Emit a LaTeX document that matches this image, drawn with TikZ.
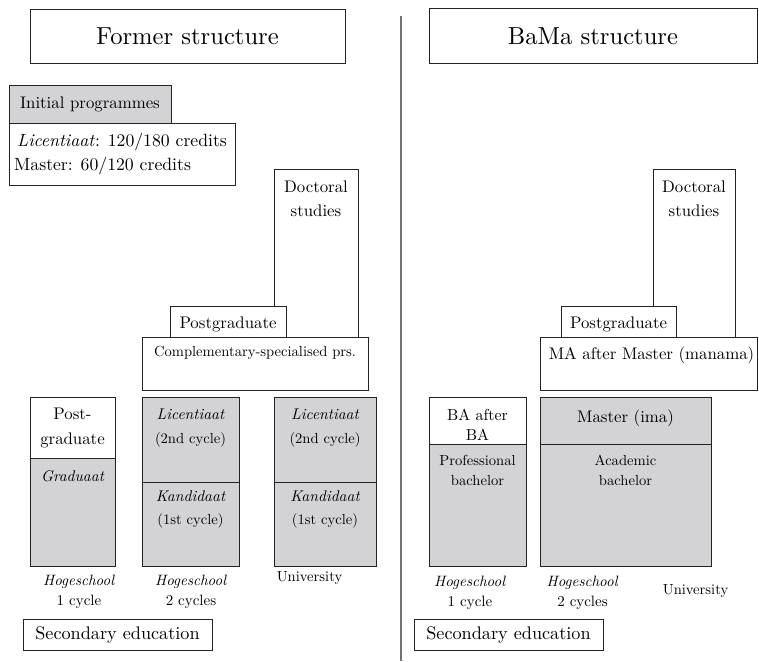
\documentclass[tikz,border=0pt]{standalone}
\usepackage{fontspec}
\setmainfont{lmroman10-regular.otf}[ItalicFont=lmroman10-italic.otf]
\newcommand{\fsz}[2]{\fontsize{#1}{#2}\selectfont}
\definecolor{boxgray}{RGB}{211,211,213}
\definecolor{edge}{RGB}{35,35,35}
\begin{document}
\begin{tikzpicture}[x=1pt,y=-1pt,
  bx/.style={draw=edge, line width=1pt, fill=white, anchor=north west, inner sep=0pt, outer sep=0pt},
  gbx/.style={bx, fill=boxgray},
  tx/.style={inner sep=0pt, align=center, text=black}]
\useasboundingbox (0,0) rectangle (759,661);
% ---------------- left: former structure ----------------
\node[bx, minimum width=315pt, minimum height=53pt] (t1) at (30,10) {};
\node[tx, font=\fsz{24.6}{28}] (t1txt) at (187.5,36) {Former structure};
\node[gbx, minimum width=162pt, minimum height=38pt] (ip) at (9,85) {};
\node[tx, font=\fsz{16.8}{20}] (iptxt) at (90,104) {Initial programmes};
\node[bx, minimum width=226pt, minimum height=62pt] (lic) at (9,123) {};
\node[tx, align=left, anchor=west, font=\fsz{17.7}{24}] (lictxt) at (14,154) {\hspace*{3pt}\textit{Licentiaat}: 120/180 credits\\Master: 60/120 credits};
\node[bx, minimum width=84pt, minimum height=168pt] (docL) at (274,169) {};
\node[tx, font=\fsz{16.8}{24}] (docLtxt) at (316,199) {Doctoral\\studies};
\node[bx, minimum width=116pt, minimum height=31pt] (pgL) at (170,306) {};
\node[tx, font=\fsz{16.8}{20}] (pgLtxt) at (228,324) {Postgraduate};
\node[bx, minimum width=226pt, minimum height=53pt] (compL) at (142,337) {};
\node[tx, font=\fsz{14.6}{18}] (compLtxt) at (255,353) {Complementary-specialised prs.};
% columns
\node[bx, minimum width=85pt, minimum height=61pt] (c1top) at (30,397) {};
\node[gbx, minimum width=85pt, minimum height=108pt] (c1bot) at (30,458) {};
\node[tx, font=\fsz{16.8}{25}] (c1toptxt) at (72.5,428) {Post-\\graduate};
\node[tx, font=\fsz{15.5}{20}\itshape] (c1bottxt) at (72.5,476) {Graduaat};
\node[gbx, minimum width=97pt, minimum height=85pt] (c2top) at (142,397) {};
\node[gbx, minimum width=97pt, minimum height=84pt] (c2bot) at (142,482) {};
\node[tx, font=\fsz{14.6}{24}] (c2toptxt) at (190.5,428) {{\fsz{15.5}{24}\itshape Licentiaat}\\(2nd cycle)};
\node[tx, font=\fsz{14.6}{23}] (c2bottxt) at (190.5,509.5) {{\fsz{15.5}{23}\itshape Kandidaat}\\(1st cycle)};
\node[gbx, minimum width=102pt, minimum height=85pt] (c3top) at (274,397) {};
\node[gbx, minimum width=102pt, minimum height=84pt] (c3bot) at (274,482) {};
\node[tx, font=\fsz{14.6}{24}] (c3toptxt) at (325,428) {{\fsz{15.5}{24}\itshape Licentiaat}\\(2nd cycle)};
\node[tx, font=\fsz{14.6}{23}] (c3bottxt) at (325,509.5) {{\fsz{15.5}{23}\itshape Kandidaat}\\(1st cycle)};
\node[tx, font=\fsz{15}{20}] (h1L) at (79,592) {\textit{Hogeschool}\\1 cycle};
\node[tx, font=\fsz{15}{20}] (h2L) at (191,592) {\textit{Hogeschool}\\2 cycles};
\node[tx, font=\fsz{14.6}{18}] (uL) at (309.5,578) {University};
\node[bx, minimum width=189pt, minimum height=31pt] (secL) at (23,619) {};
\node[tx, font=\fsz{18.2}{22}] (secLtxt) at (117.5,635) {Secondary education};
% ---------------- divider ----------------
\coordinate (dtop) at (401,16);
\coordinate (dbot) at (401,661);
\draw[line width=1.8pt, draw=black!55] (dtop) -- (dbot);
% ---------------- right: BaMa structure ----------------
\node[bx, minimum width=328pt, minimum height=54pt] (t2) at (429,9) {};
\node[tx, font=\fsz{24.6}{28}] (t2txt) at (593,36) {BaMa structure};
\node[bx, minimum width=82pt, minimum height=168pt] (docR) at (653,169) {};
\node[tx, font=\fsz{16.8}{24}] (docRtxt) at (694,199) {Doctoral\\studies};
\node[bx, minimum width=115pt, minimum height=31pt] (pgR) at (561,306) {};
\node[tx, font=\fsz{16.8}{20}] (pgRtxt) at (618.5,324) {Postgraduate};
\node[bx, minimum width=217pt, minimum height=53pt] (maR) at (540,337) {};
\node[tx, font=\fsz{16.8}{20}] (maRtxt) at (651.5,355) {MA after Master (manama)};
\node[bx, minimum width=97pt, minimum height=47pt] (batop) at (429,397) {};
\node[gbx, minimum width=97pt, minimum height=122pt] (babot) at (429,444) {};
\node[tx, font=\fsz{15.9}{20}] (batoptxt) at (477.5,425) {BA after\\BA};
\node[tx, font=\fsz{14.6}{20}] (babottxt) at (477.5,470) {Professional\\bachelor};
\node[gbx, minimum width=171pt, minimum height=47pt] (matop) at (540,397) {};
\node[gbx, minimum width=171pt, minimum height=122pt] (mabot) at (540,444) {};
\node[tx, font=\fsz{16.8}{20}] (matoptxt) at (625.5,418) {Master (ima)};
\node[tx, font=\fsz{14.6}{20}] (mabottxt) at (625.5,470) {Academic\\bachelor};
\node[tx, font=\fsz{15}{20}] (h1R) at (470,592.5) {\textit{Hogeschool}\\1 cycle};
\node[tx, font=\fsz{15}{20}] (h2R) at (582.5,592.5) {\textit{Hogeschool}\\2 cycles};
\node[tx, font=\fsz{14.6}{18}] (uR) at (695.5,591) {University};
\node[bx, minimum width=189pt, minimum height=31pt] (secR) at (414,619) {};
\node[tx, font=\fsz{18.2}{22}] (secRtxt) at (508.5,635) {Secondary education};
\end{tikzpicture}
\end{document}
